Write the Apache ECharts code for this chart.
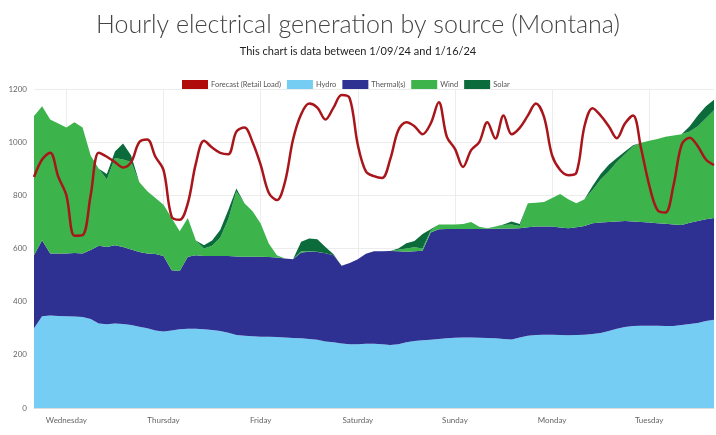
<!DOCTYPE html>
<html lang="en">
<head>
    <meta charset="UTF-8"/>
    <script src="https://cdn.jsdelivr.net/npm/echarts@6/dist/echarts.min.js"></script>
    <title>Montana generation</title>
    <style>
        html, body { margin: 0; padding: 0; background: #fff; }
        #main { width: 716px; height: 435px; }
    </style>
</head>
<body>
<div id="main"></div>
<script type="text/javascript">
    // day tick labels, one every 12 samples (samples are 2 hours apart)
    var days = ['Wednesday', 'Thursday', 'Friday', 'Saturday', 'Sunday', 'Monday', 'Tuesday'];

    // MW, every 2 hours
    var hydro = [300, 345, 348, 346, 345, 344, 342, 335, 318, 315, 318, 316, 312, 306, 300, 292, 288, 292, 296, 298,
        298, 296, 293, 290, 283, 275, 272, 270, 268, 268, 267, 265, 263, 262, 260, 257, 250, 247, 243, 240,
        240, 242, 242, 240, 237, 240, 247, 252, 255, 257, 260, 262, 264, 265, 265, 264, 263, 262, 260, 258,
        265, 272, 275, 276, 276, 275, 274, 275, 276, 278, 282, 290, 298, 305, 308, 309, 309, 309, 308, 308,
        312, 316, 320, 327, 332];
    var thermal = [275, 286, 233, 235, 236, 239, 239, 259, 292, 291, 294, 290, 284, 281, 281, 287, 284, 226, 219, 271,
        277, 276, 279, 282, 289, 295, 297, 299, 301, 300, 299, 297, 297, 323, 328, 330, 332, 328, 292, 305,
        320, 338, 348, 350, 354, 350, 341, 338, 337, 403, 412, 411, 409, 408, 408, 409, 411, 412, 415, 417,
        411, 408, 408, 407, 407, 404, 402, 405, 409, 417, 416, 410, 404, 398, 394, 391, 389, 386, 385, 382,
        376, 381, 383, 383, 383];
    var wind = [523, 504, 504, 489, 474, 492, 474, 356, 290, 254, 328, 329, 329, 263, 234, 211, 193, 197, 150, 146,
        55, 28, 38, 68, 138, 245, 201, 171, 125, 51, 9, 0, 0, 5, 2, 1, 0, 0, 0, 0,
        0, 0, 0, 0, 0, 5, 12, 15, 8, 8, 18, 17, 17, 19, 27, 9, 2, 9, 13, 15,
        9, 90, 89, 92, 107, 126, 109, 90, 100, 125, 162, 190, 223, 252, 283, 298, 307, 317, 327, 335,
        342, 343, 357, 380, 405];
    var solar = [0, 0, 0, 0, 0, 0, 0, 0, 0, 20, 25, 60, 25, 0, 0, 0, 0, 0, 0, 0,
        0, 12, 20, 30, 35, 11, 0, 0, 0, 0, 0, 0, 0, 35, 48, 47, 24, 3, 0, 0,
        0, 0, 0, 0, 0, 5, 20, 23, 55, 4, 0, 0, 0, 0, 0, 0, 0, 0, 2, 12,
        7, 0, 0, 0, 0, 0, 0, 0, 0, 15, 20, 25, 15, 10, 3, 0, 0, 0, 0, 0,
        0, 20, 40, 45, 40];
    var forecast = [869, 935, 960, 870, 800, 648, 650, 800, 960, 945, 925, 905, 925, 1000, 1010, 945, 895, 720, 708, 770,
        920, 1005, 980, 960, 955, 1040, 1055, 1000, 915, 810, 782, 850, 1010, 1105, 1145, 1130, 1085, 1130, 1177, 1165,
        990, 890, 872, 865, 935, 1045, 1075, 1060, 1030, 1070, 1150, 1020, 975, 907, 970, 1000, 1075, 1014, 1100, 1030,
        1054, 1100, 1145, 1095, 950, 895, 876, 885, 1060, 1128, 1100, 1060, 1015, 1070, 1100, 975, 838, 745, 735, 838,
        990, 1017, 985, 935, 914];

    var categories = hydro.map(function (v, i) {
        return i % 12 === 4 ? days[(i - 4) / 12] : '';
    });
    function onDay(idx) { return idx % 12 === 4; }

    var myChart = echarts.init(document.getElementById('main'));

    function area(name, data, color) {
        return {
            name: name,
            type: 'line',
            stack: 'gen',
            data: data,
            showSymbol: false,
            symbol: 'none',
            lineStyle: {width: 0},
            areaStyle: {color: color, opacity: 1},
            itemStyle: {color: color},
            emphasis: {disabled: true}
        };
    }

    var option = {
        backgroundColor: '#ffffff',
        animation: false,
        title: [{
            text: 'Hourly electrical generation by source (Montana)',
            left: 'center',
            top: 7,
            textStyle: {fontFamily: 'Lato', fontWeight: 300, fontSize: 25, color: '#444'}
        }, {
            text: 'This chart is data between 1/09/24 and 1/16/24',
            left: 'center',
            top: 41,
            textStyle: {fontFamily: 'Lato', fontWeight: 'normal', fontSize: 11, color: '#222'}
        }],
        legend: {
            data: ['Forecast (Retail Load)', 'Hydro', 'Thermal(s)', 'Wind', 'Solar'],
            left: 177,
            top: 75,
            icon: 'rect',
            itemWidth: 26,
            itemHeight: 9,
            itemGap: 6,
            textStyle: {fontFamily: 'Lato', fontSize: 7.5, color: '#555', padding: [0, 0, 0, -2]}
        },
        grid: {left: 34, right: 2, top: 89, bottom: 27, outerBoundsMode: 'none'},
        xAxis: {
            type: 'category',
            boundaryGap: false,
            data: categories,
            axisLine: {lineStyle: {color: '#ddd'}},
            axisTick: {show: false},
            axisLabel: {interval: onDay, fontFamily: 'Lato', fontSize: 8, color: '#666', margin: 8},
            splitLine: {show: true, interval: onDay, lineStyle: {color: '#ececec'}}
        },
        yAxis: {
            type: 'value',
            min: 0,
            max: 1200,
            interval: 200,
            name: 'MW',
            nameLocation: 'middle',
            nameGap: 28,
            nameTextStyle: {fontSize: 6, color: '#888'},
            axisLine: {show: false},
            axisTick: {show: false},
            axisLabel: {
                fontFamily: 'Lato', fontSize: 8, color: '#666', margin: 7,
                formatter: function (v) { return String(v); }
            },
            splitLine: {lineStyle: {color: '#ececec'}}
        },
        series: [
            area('Hydro', hydro, '#76cdf4'),
            area('Thermal(s)', thermal, '#2e3192'),
            area('Wind', wind, '#3cb44b'),
            area('Solar', solar, '#0b6b3a'),
            {
                name: 'Forecast (Retail Load)',
                type: 'line',
                data: forecast,
                smooth: 0.35,
                showSymbol: false,
                symbol: 'none',
                z: 5,
                lineStyle: {color: '#a8161b', width: 2.5},
                itemStyle: {color: '#b10a0a'},
                emphasis: {disabled: true}
            }
        ]
    };

    myChart.setOption(option);
</script>
</body>
</html>
